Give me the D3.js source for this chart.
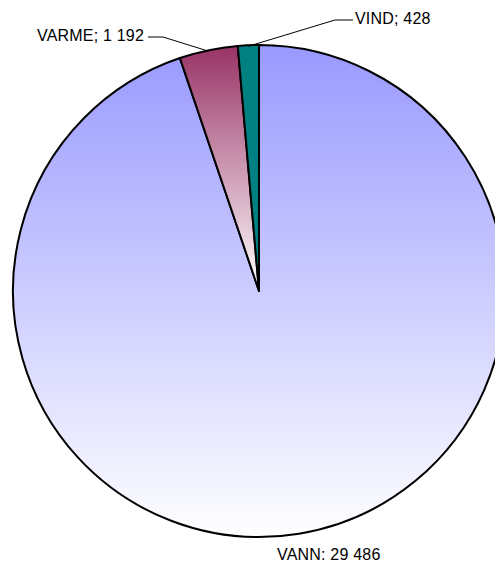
<!DOCTYPE html>
<html><head><meta charset="utf-8">
<script src="https://cdn.jsdelivr.net/npm/d3@7"></script>
<style>html,body{margin:0;padding:0;background:#fff;overflow:hidden}</style>
</head><body>
<svg id="chart" width="495" height="562"></svg>
<script>
const categories = ["VANN", "VARME", "VIND"];
const values = [29486, 1192, 428];
const labels = ["VANN: 29 486", "VARME; 1 192", "VIND; 428"];
const colorsTop = ["#9999ff", "#993366", "#008080"];
const colorsBottom = ["#ffffff", "#ffffff", "#008080"];

const svg = d3.select("#chart");
const cx = 259, cy = 291, r = 246;
const g = svg.append("g").attr("transform", `translate(${cx},${cy})`);

const pie = d3.pie().sort(null).value(d => d)(values);
const arc = d3.arc().innerRadius(0).outerRadius(r);

const defs = svg.append("defs");
pie.forEach((p, i) => {
  const grad = defs.append("linearGradient").attr("id", "g" + i)
    .attr("x1", 0).attr("y1", 0).attr("x2", 0).attr("y2", 1);
  grad.append("stop").attr("offset", "0%").attr("stop-color", colorsTop[i]);
  grad.append("stop").attr("offset", "100%").attr("stop-color", colorsBottom[i]);
});

g.selectAll("path.slice").data(pie).join("path")
  .attr("class", "slice")
  .attr("d", arc)
  .attr("fill", (d, i) => `url(#g${i})`)
  .attr("stroke", "#000").attr("stroke-width", 2).attr("stroke-linejoin", "round");

// labels
const font = "Liberation Sans, Arial, sans-serif";
const labelPos = [
  {x: 277 - cx, y: 560 - cy, anchor: "start", line: null},
  {x: 144 - cx, y: 41 - cy, anchor: "end", line: [[148 - cx, 37 - cy], [163 - cx, 37 - cy]]},
  {x: 355 - cx, y: 24 - cy, anchor: "start", line: [[353 - cx, 20 - cy], [335 - cx, 20 - cy]]}
];
pie.forEach((p, i) => {
  const lp = labelPos[i];
  if (lp.line) {
    const a = (p.startAngle + p.endAngle) / 2;
    const ex = (r - 1) * Math.sin(a), ey = -(r - 1) * Math.cos(a);
    g.append("polyline")
      .attr("points", [lp.line[0], lp.line[1], [ex, ey]].map(q => q.join(",")).join(" "))
      .attr("fill", "none").attr("stroke", "#000").attr("stroke-width", 1);
  }
  g.append("text").attr("x", lp.x).attr("y", lp.y)
    .attr("text-anchor", lp.anchor)
    .attr("font-family", font).attr("font-size", 16)
    .attr("letter-spacing", 0.2)
    .attr("fill", "#000")
    .text(labels[i]);
});
</script>
</body></html>
